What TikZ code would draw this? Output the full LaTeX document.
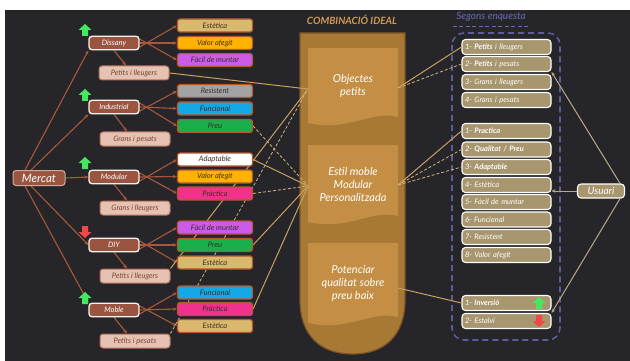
\documentclass[tikz,border=0pt]{standalone}
\usepackage{fontspec}
\setmainfont{Lato}
\usetikzlibrary{arrows.meta}
\pgfdeclarelayer{bglayer}
\pgfdeclarelayer{linklayer}
\pgfsetlayers{bglayer,linklayer,main}
\definecolor{bgdark}{HTML}{26262A}
\definecolor{brownbox}{HTML}{9A5540}
\definecolor{arrbrown}{HTML}{A8583A}
\definecolor{pinkbox}{HTML}{E6C2B2}
\definecolor{pinkborder}{HTML}{B86E58}
\definecolor{pinktext}{HTML}{7A4636}
\definecolor{attrborder}{HTML}{B5582C}
\definecolor{attrtext}{HTML}{3A2E26}
\definecolor{cEst}{HTML}{D9B96E}
\definecolor{cOra}{HTML}{FFB300}
\definecolor{cVio}{HTML}{CC5CE8}
\definecolor{cGry}{HTML}{A3A3A3}
\definecolor{cCya}{HTML}{14A8E6}
\definecolor{cGrn}{HTML}{19B04B}
\definecolor{cPnk}{HTML}{F0328C}
\definecolor{colfill}{HTML}{A77935}
\definecolor{colborder}{HTML}{7D5524}
\definecolor{docfill}{HTML}{C48F44}
\definecolor{titlegold}{HTML}{D49A50}
\definecolor{linktan}{HTML}{C8A060}
\definecolor{rtan}{HTML}{A8966E}
\definecolor{frameblue}{HTML}{5C5C9A}
\definecolor{titleblue}{HTML}{6B6BB5}
\definecolor{upgreen}{HTML}{44E860}
\definecolor{downred}{HTML}{F04848}
\definecolor{usrline}{HTML}{B8AA88}
\begin{document}
\begin{tikzpicture}[x=1pt,y=-1pt,
  attr/.style={draw=attrborder, line width=1.2pt, rounded corners=2.5pt, minimum width=75pt, minimum height=13pt, inner sep=0pt, font=\fontsize{7.5}{8}\selectfont\itshape, text=attrtext},
  cat/.style={draw=white!90!brown, fill=brownbox, line width=1.3pt, rounded corners=3pt, minimum width=50pt, minimum height=13.5pt, inner sep=0pt, font=\fontsize{7.5}{8}\selectfont\itshape, text=white},
  subbox/.style={draw=pinkborder, fill=pinkbox, line width=1pt, rounded corners=3pt, minimum width=70pt, minimum height=14pt, inner sep=0pt, font=\fontsize{7.5}{8}\selectfont\itshape, text=pinktext},
  rbox/.style={draw=white, fill=rtan, line width=1.1pt, rounded corners=3.5pt, minimum width=89pt, minimum height=15pt, inner sep=0pt, text width=83pt, align=left, font=\fontsize{7.5}{8}\selectfont\itshape, text=white},
  arr/.style={draw=arrbrown, line width=1.1pt, -{Stealth[length=4pt,width=3.5pt]}},
  mline/.style={draw=arrbrown, line width=1.1pt, -{Stealth[length=4pt,width=3.5pt]}},
  link/.style={draw=linktan, line width=1pt},
  dlink/.style={draw=linktan!80!white, line width=0.8pt, dash pattern=on 3pt off 2pt},
  uarr/.style={draw=usrline, line width=1pt, -{Stealth[length=4pt,width=3.5pt]}},
  coltext/.style={font=\fontsize{11}{13}\selectfont\itshape, text=white, align=center, minimum width=90pt, minimum height=70pt},
  uparrow/.pic={\fill[upgreen] (0,-6) -- (6.5,0) -- (3,0) -- (3,6) -- (-3,6) -- (-3,0) -- (-6.5,0) -- cycle;},
  downarrow/.pic={\fill[downred] (0,6) -- (6.5,0) -- (3,0) -- (3,-6) -- (-3,-6) -- (-3,0) -- (-6.5,0) -- cycle;}
]
\useasboundingbox (0,0) rectangle (630,361);
\begin{pgfonlayer}{bglayer}
\fill[white] (0,0) rectangle (630,361);
\fill[bgdark] (5,10) rectangle (630,361);
% ---------- middle column ----------
\fill[colfill, draw=colborder, line width=1.2pt] (300,33) -- (405,33) -- (405,300) .. controls (405,335) and (385,354) .. (352.5,354) .. controls (320,354) and (300,335) .. (300,300) -- cycle;
\fill[docfill] (308,48) -- (398,48) -- (398,117) .. controls (370,110) and (350,132) .. (308,123) -- cycle;
\fill[docfill] (308,145) -- (398,145) -- (398,216) .. controls (370,209) and (350,231) .. (308,222) -- cycle;
\fill[docfill] (308,243) -- (398,243) -- (398,317) .. controls (370,310) and (350,332) .. (308,323) -- cycle;
\end{pgfonlayer}

\node[font=\fontsize{10}{11}\selectfont\bfseries\itshape, text=titlegold] (ctitle) at (352,20) {COMBINACIÓ IDEAL};
\node[coltext] (obj) at (353,86) {Objectes\\petits};
\node[coltext] (estil) at (353,184) {Estil moble\\Modular\\Personalitzada};
\node[coltext] (pot) at (353,283) {Potenciar\\qualitat sobre\\preu baix};

% ---------- left side ----------
\node[draw=pinkborder!60!white, fill=brownbox, line width=1pt, rounded corners=3pt, minimum width=52pt, minimum height=15pt, inner sep=0pt, font=\fontsize{11.5}{12}\selectfont\itshape, text=white] (mercat) at (39,178) {Mercat};

\node[cat] (dis) at (114,43) {Dissany};
\node[cat] (ind) at (114,107) {Industrial};
\node[cat] (mod) at (114,177) {Modular};
\node[cat] (diy) at (114,245) {DIY};
\node[cat] (mob) at (114,310) {Moble};

\pic at (85,30) {uparrow};
\pic at (85,95) {uparrow};
\pic at (85,163) {uparrow};
\pic at (85,232) {downarrow};
\pic at (85,298) {uparrow};

\node[subbox] (s1) at (134,73) {Petits i lleugers};
\node[subbox] (s2) at (135,139) {Grans i pesats};
\node[subbox] (s3) at (135,208) {Grans i lleugers};
\node[subbox] (s4) at (135,276) {Petits i lleugers};
\node[subbox] (s5) at (135,341) {Petits i pesats};

\node[attr, fill=cEst] (a1) at (215,25.5) {Estètica};
\node[attr, fill=cOra] (a2) at (215,43) {Valor afegit};
\node[attr, fill=cVio] (a3) at (215,60) {Fàcil de muntar};
\node[attr, fill=cGry] (b1) at (215,91) {Resistent};
\node[attr, fill=cCya] (b2) at (215,108.5) {Funcional};
\node[attr, fill=cGrn] (b3) at (215,126) {Preu};
\node[attr, fill=white] (c1) at (215,159.5) {Adaptable};
\node[attr, fill=cOra] (c2) at (215,176.5) {Valor afegit};
\node[attr, fill=cPnk] (c3) at (215,193.5) {Pràctica};
\node[attr, fill=cVio] (d1) at (215,227.5) {Fàcil de muntar};
\node[attr, fill=cGrn] (d2) at (215,245) {Preu};
\node[attr, fill=cEst] (d3) at (215,262.5) {Estètica};
\node[attr, fill=cCya] (e1) at (215,292.5) {Funcional};
\node[attr, fill=cPnk] (e2) at (215,309) {Pràctica};
\node[attr, fill=cEst] (e3) at (215,326) {Estètica};

\begin{pgfonlayer}{linklayer}
% Mercat connectors
\draw[mline] ([xshift=-14pt]mercat.north) -- (dis.south west);
\draw[mline] ([xshift=-8pt]mercat.north) -- (ind.south west);
\draw[mline] (mercat.east) -- (mod.west);
\draw[mline] ([xshift=-8pt]mercat.south) -- (diy.west);
\draw[mline] ([xshift=-14pt]mercat.south) -- (mob.north west);

% category connectors
\foreach \c/\a/\b/\d/\s in {dis/a1/a2/a3/s1, ind/b1/b2/b3/s2, mod/c1/c2/c3/s3, diy/d1/d2/d3/s4, mob/e1/e2/e3/s5}{
  \draw[arr] ([yshift=-4pt]\c.east) -- (\a.west);
  \draw[arr] (\c.east) -- (\b.west);
  \draw[arr] ([yshift=4pt]\c.east) -- (\d.west);
  \draw[arr] (\c.south) -- ([xshift=-8pt]\s.north);
}

% left to middle connectors
\coordinate (objw) at (308,89);
\coordinate (estw) at (308,186);
\draw[link] (s1.east) -- (objw);
\draw[link] (s4.north east) -- (objw);
\draw[dlink] (s5.north east) -- (objw);
\draw[dlink] (b3.east) -- (estw);
\draw[link] (c1.east) -- (estw);
\draw[dlink] (c3.east) -- (estw);
\draw[link] (d2.east) -- (estw);
\draw[link] (e2.east) -- (estw);
\end{pgfonlayer}

% ---------- right side ----------
\node[font=\fontsize{10}{11}\selectfont\itshape, text=titleblue] (seg) at (491,17) {Segons enquesta};
\draw[titleblue, line width=0.8pt, dash pattern=on 4pt off 2.5pt] ([yshift=-1pt]seg.south west) -- ([yshift=-1pt]seg.south east);
\draw[frameblue, line width=1.6pt, dash pattern=on 6pt off 4pt, rounded corners=12pt] (452,33) rectangle (560,340);

\node[rbox] (p1) at (506.5,47) {1- \textbf{Petits} i lleugers};
\node[rbox] (p2) at (506.5,64) {2- \textbf{Petits} i pesats};
\node[rbox] (p3) at (506.5,82) {3- Grans i lleugers};
\node[rbox] (p4) at (506.5,100) {4- Grans i pesats};

\node[rbox] (q1) at (506.5,131) {1- \textbf{Practica}};
\node[rbox] (q2) at (506.5,149.5) {2- \textbf{Qualitat / Preu}};
\node[rbox] (q3) at (506.5,167) {3- \textbf{Adaptable}};
\node[rbox] (q4) at (506.5,185) {4- Estètica};
\node[rbox] (q5) at (506.5,202) {5- Fàcil de muntar};
\node[rbox] (q6) at (506.5,219.5) {6- Funcional};
\node[rbox] (q7) at (506.5,237) {7- Resistent};
\node[rbox] (q8) at (506.5,255) {8- Valor afegit};

\node[rbox] (v1) at (506.5,303) {1- \textbf{Inversió}};
\node[rbox] (v2) at (506.5,321) {2- Estalvi};
\pic at (539,303) {uparrow};
\pic at (539,321) {downarrow};

\node[draw=white, fill=rtan, line width=1.1pt, rounded corners=3.5pt, minimum width=47pt, minimum height=14pt, inner sep=0pt, font=\fontsize{10}{11}\selectfont\itshape, text=white] (usu) at (601,191) {Usuari};

% middle to right
\coordinate (obje) at (398,88);
\coordinate (este) at (398,185);
\coordinate (pote) at (398,288);
\draw[link] (obje) -- (p1.west);
\draw[dlink] (obje) -- (p2.west);
\draw[link] (este) -- (q1.west);
\draw[dlink] (este) -- (q2.west);
\draw[dlink] (este) -- (q3.west);
\draw[link] (pote) -- (v1.west);

% usuari
\draw[uarr] ([xshift=-5pt]usu.north east) -- (p2.south east);
\draw[uarr] (usu.west) -- (usu.west -| q4.east);
\draw[uarr] ([xshift=-5pt]usu.south east) -- (v2.north east);
\end{tikzpicture}
\end{document}
